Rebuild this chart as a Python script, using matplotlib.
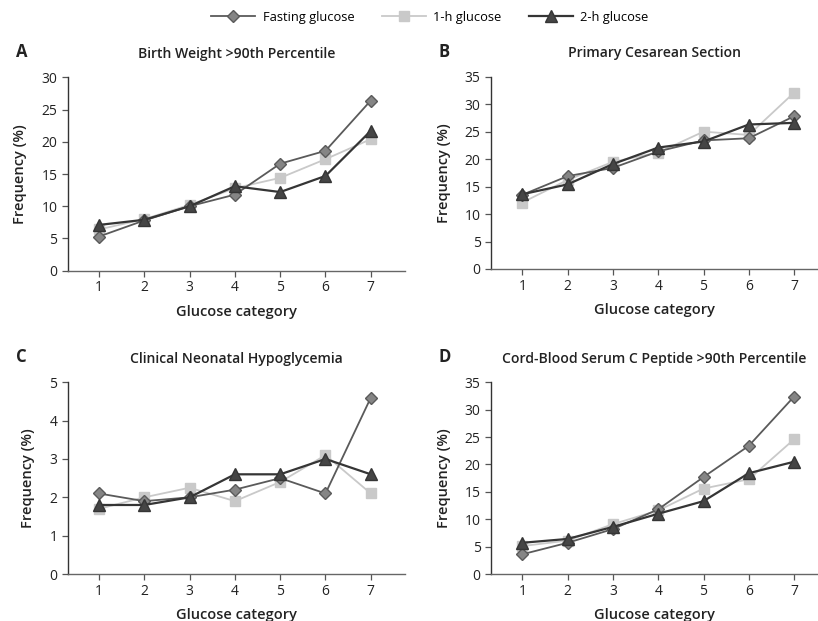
import numpy as np
import matplotlib.pyplot as plt

plt.rcParams['font.family'] = ['Open Sans', 'DejaVu Sans']

categories = [1, 2, 3, 4, 5, 6, 7]
series_names = ['Fasting glucose', '1-h glucose', '2-h glucose']

# Panel A: birth weight >90th percentile
bw_fasting = [5.3, 7.8, 10.0, 11.8, 16.6, 18.6, 26.4]
bw_1h = [6.4, 8.0, 10.2, 12.8, 14.4, 17.3, 20.4]
bw_2h = [7.1, 7.9, 10.0, 13.1, 12.2, 14.7, 21.7]

# Panel B: primary cesarean section
cs_fasting = [13.5, 16.9, 18.4, 21.4, 23.4, 23.8, 27.8]
cs_1h = [12.1, 16.2, 19.5, 21.2, 25.0, 24.4, 32.1]
cs_2h = [13.6, 15.4, 19.1, 22.1, 23.2, 26.3, 26.6]

# Panel C: clinical neonatal hypoglycemia
hg_fasting = [2.1, 1.9, 2.0, 2.2, 2.5, 2.1, 4.6]
hg_1h = [1.7, 2.0, 2.25, 1.9, 2.4, 3.1, 2.1]
hg_2h = [1.8, 1.8, 2.0, 2.6, 2.6, 3.0, 2.6]

# Panel D: cord-blood serum C peptide >90th percentile
cp_fasting = [3.6, 5.7, 8.2, 11.8, 17.7, 23.4, 32.4]
cp_1h = [5.1, 6.1, 9.1, 11.6, 15.6, 17.3, 24.6]
cp_2h = [5.7, 6.4, 8.6, 11.0, 13.3, 18.4, 20.5]

panels = [
    ('A', 'Birth Weight >90th Percentile', bw_fasting, bw_1h, bw_2h, 30, 5),
    ('B', 'Primary Cesarean Section', cs_fasting, cs_1h, cs_2h, 35, 5),
    ('C', 'Clinical Neonatal Hypoglycemia', hg_fasting, hg_1h, hg_2h, 5, 1),
    ('D', 'Cord-Blood Serum C Peptide >90th Percentile', cp_fasting, cp_1h, cp_2h, 35, 5),
]

W, H = 818, 621
fig = plt.figure(figsize=(W / 100, H / 100), dpi=100)

# axes boxes in pixels: left, bottom(y of zero), right, top(y of max)
boxes = [(67.7, 270.7, 405, 77.3), (491, 269, 818, 76.7),
         (67.7, 574, 405, 382.3), (491, 574, 818, 382.3)]

styles = {
    'Fasting glucose': dict(color='#5a5a5a', marker='D', mfc='#858585', mec='#5a5a5a', ms=6, lw=1.3, zorder=3),
    '1-h glucose': dict(color='#c9c9c9', marker='s', mfc='#c9c9c9', mec='#c9c9c9', ms=6.5, lw=1.3, zorder=2),
    '2-h glucose': dict(color='#353535', marker='^', mfc='#454545', mec='#353535', ms=8, lw=1.6, zorder=4),
}

handles = []
for (letter, title, f, h1, h2, ymax, step), (l, b, r, t) in zip(panels, boxes):
    ax = fig.add_axes([l / W, (H - b) / H, (r - l) / W, (b - t) / H])
    # x=1 sits ~31 px right of the spine, 45.3 px per category
    x0 = 1 - 31.3 / 45.3
    x1 = 1 + (r - l - 31.3) / 45.3
    ax.set_xlim(x0, x1)
    ax.set_ylim(0, ymax)
    for name, vals in [('1-h glucose', h1), ('Fasting glucose', f), ('2-h glucose', h2)]:
        ln, = ax.plot(categories, vals, label=name, clip_on=False, **styles[name])
        if letter == 'A':
            handles.append(ln)
    ax.set_xticks(categories)
    ax.set_yticks(np.arange(0, ymax + 0.1, step))
    ax.spines['top'].set_visible(False)
    ax.spines['right'].set_visible(False)
    ax.spines['left'].set_bounds(0, ymax)
    ax.spines['left'].set_color('#333333')
    ax.spines['bottom'].set_color('#666666')
    for s in ['left', 'bottom']:
        ax.spines[s].set_linewidth(1.0)
    ax.tick_params(axis='both', labelsize=10, color='#555555', labelcolor='#222222', length=4, width=0.9)
    ax.tick_params(axis='x', pad=3)
    ax.set_xlabel('Glucose category', fontsize=10.5, fontweight='semibold', color='#222222', labelpad=7)
    ax.set_ylabel('Frequency (%)', fontsize=10.5, fontweight='semibold', color='#222222', labelpad=10)
    ax.set_title(title, fontsize=10.1, fontweight='semibold', color='#222222', pad=14)
    fig.text((l - 52) / W, (H - (t - 25)) / H, letter, fontsize=12, fontweight='bold',
             color='#222222', va='center', ha='left')

order = ['Fasting glucose', '1-h glucose', '2-h glucose']
hmap = {hh.get_label(): hh for hh in handles}
fig.legend([hmap[n] for n in order], order, loc='center', bbox_to_anchor=(430 / W, 1 - 17 / H),
           ncol=3, frameon=False, fontsize=9.3, handlelength=3.4, columnspacing=2.1, handletextpad=0.6)

fig.savefig('out.png', dpi=100)
